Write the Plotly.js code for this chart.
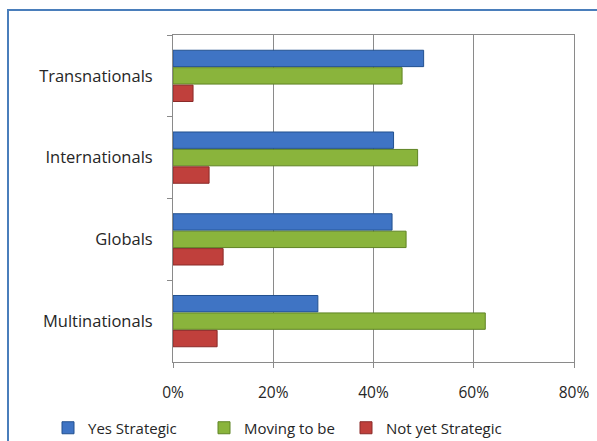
<!DOCTYPE html>
<html>
<head>
<meta charset="utf-8">
<script src="https://cdn.plot.ly/plotly-3.0.1.min.js"></script>
<style>html,body{margin:0;padding:0;background:#fff;}#chart{width:597px;height:441px;}</style>
</head>
<body>
<div id="chart"></div>
<script>
var categories = ['Transnationals', 'Internationals', 'Globals', 'Multinationals'];
var seriesNames = ['Yes Strategic', 'Moving to be', 'Not yet Strategic'];
var yesStrategic = [0.50, 0.44, 0.437, 0.289];
var movingToBe = [0.457, 0.488, 0.465, 0.623];
var notYetStrategic = [0.04, 0.072, 0.10, 0.088];
var xTickValues = [0, 0.2, 0.4, 0.6, 0.8];
var xTickLabels = ['0%', '20%', '40%', '60%', '80%'];

var fills = ['#3f74c4', '#8ab43c', '#c0403c'];
var edges = ['#22508f', '#5f8424', '#8a2a28'];
var values = [yesStrategic, movingToBe, notYetStrategic];
var legendIds = ['legend', 'legend2', 'legend3'];
var legendPx = [48, 204, 346];

var traces = values.map(function (v, i) {
  return {
    type: 'bar', orientation: 'h', name: seriesNames[i],
    y: categories, x: v, legend: legendIds[i],
    marker: {color: fills[i], line: {color: edges[i], width: 1}},
    hoverinfo: 'x+y'
  };
});

var layout = {
  width: 597, height: 441,
  margin: {l: 173, r: 23, t: 35, b: 79, autoexpand: false},
  paper_bgcolor: '#ffffff', plot_bgcolor: '#ffffff',
  font: {family: 'Open Sans, DejaVu Sans, sans-serif', size: 15.5, color: '#262626'},
  barmode: 'group', bargap: 0.36, bargroupgap: 0.06,
  showlegend: true,
  xaxis: {
    range: [0, 0.8], tickvals: xTickValues, ticktext: xTickLabels,
    showgrid: true, gridcolor: '#8a8a8a', gridwidth: 1,
    showline: true, linecolor: '#8a8a8a', linewidth: 1, mirror: true,
    ticks: 'outside', ticklen: 5, tickcolor: '#8a8a8a',
    ticklabelstandoff: 11, zeroline: false, fixedrange: true,
    tickfont: {size: 15.5}
  },
  yaxis: {
    type: 'category', autorange: 'reversed',
    showgrid: false, showline: true, linecolor: '#8a8a8a', linewidth: 1, mirror: true,
    ticks: 'outside', ticklen: 5, tickcolor: '#8a8a8a', tickson: 'boundaries',
    ticklabelstandoff: 16, fixedrange: true,
    tickfont: {size: 16.5}
  },
  shapes: [{
    type: 'rect', xref: 'paper', yref: 'paper',
    x0: (8 - 173) / 401, x1: (640 - 173) / 401,
    y0: (362 - 480) / 327, y1: (362 - 10) / 327,
    line: {color: '#4a7ebb', width: 2}, fillcolor: 'rgba(0,0,0,0)', layer: 'below'
  }]
};

legendIds.forEach(function (id, i) {
  layout[id] = {
    orientation: 'h', x: (legendPx[i] - 173) / 401, xanchor: 'left',
    y: (362 - 428) / 327, yanchor: 'middle',
    font: {size: 15, color: '#262626'}, itemwidth: 30,
    bgcolor: 'rgba(0,0,0,0)', borderwidth: 0
  };
});

Plotly.newPlot('chart', traces, layout, {displayModeBar: false, staticPlot: true});
</script>
</body>
</html>
